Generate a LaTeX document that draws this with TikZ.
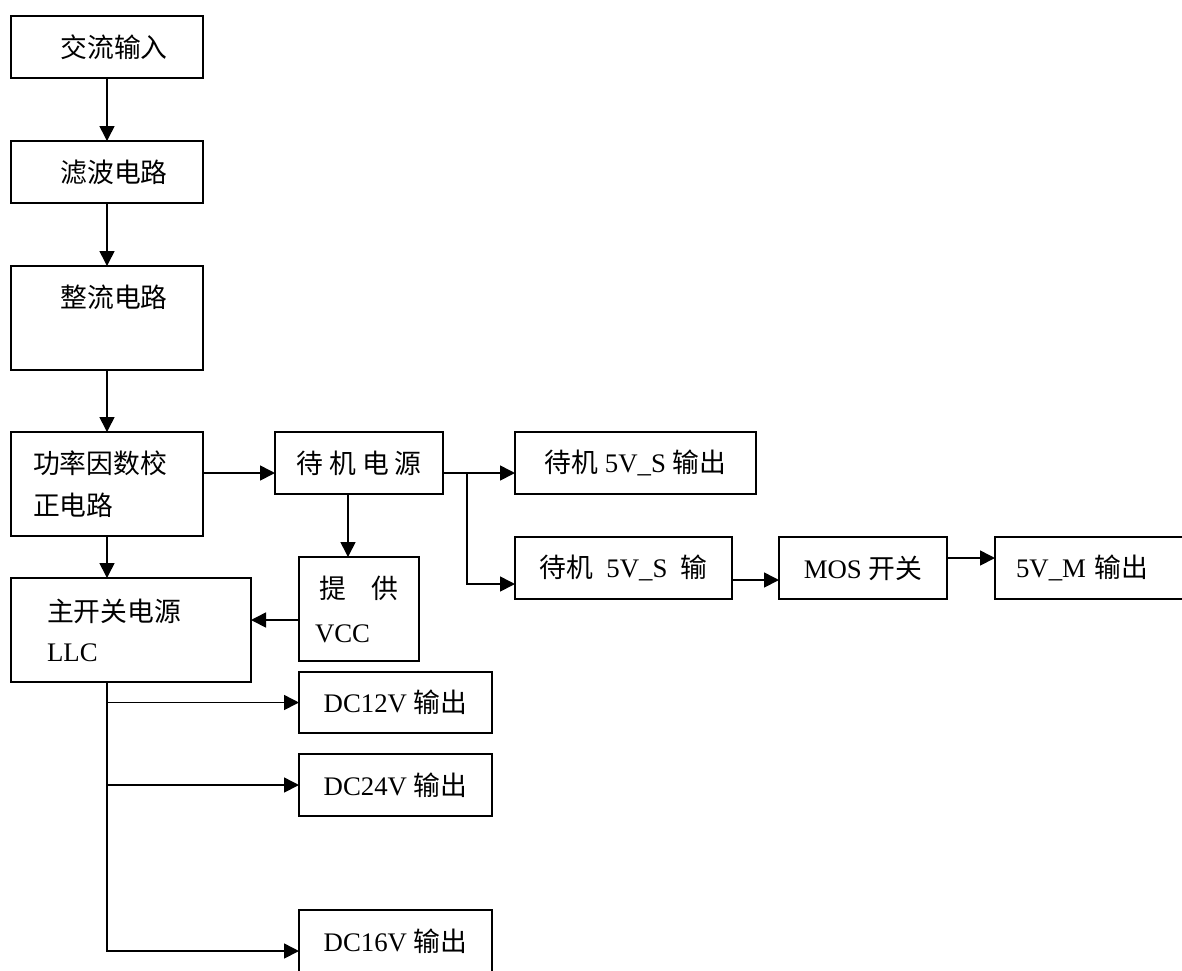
\documentclass[tikz,border=0pt]{standalone}
\usepackage{fontspec}
\setmainfont{Liberation Serif}
\newfontfamily\cjk{Noto Sans CJK SC}
\newcommand{\zh}[1]{{\cjk #1}}
\usepackage{tikz}
\usetikzlibrary{positioning,arrows.meta}
\tikzset{
  blockbox/.style={draw,line width=0.8pt,rectangle,inner sep=0pt,outer sep=0pt,minimum width=96pt,minimum height=31pt,font=\fontsize{13.4pt}{20pt}\selectfont},
  wire/.style={line width=0.8pt},
  feed/.style={-{Triangle[length=7.5pt,width=7.5pt]},line width=0.8pt}
}

\begin{document}
\begin{tikzpicture}
\useasboundingbox (0,0) rectangle (591pt,-485pt);

\node[blockbox,anchor=north west] (ac) at (5.5pt,-8pt) {\kern7pt\zh{交流输入}};
\node[blockbox,below=31.5pt of ac] (filt) {\kern7pt\zh{滤波电路}};
\node[blockbox,below=31.5pt of filt,text height=20.5pt,text depth=31.5pt] (rect) {\kern7pt\zh{整流电路}};
\node[blockbox,below=31pt of rect,minimum height=52pt,align=left,text width=74pt,inner xsep=11pt] (pfc) {\zh{功率因数校}\\[1pt]\zh{正电路}};
\node[blockbox,below=21pt of pfc.south west,anchor=north west,minimum width=120pt,minimum height=52pt,align=left,text width=84pt,inner xsep=18pt] (main) {\zh{主开关电源}\\LLC};

\node[blockbox,right=36pt of pfc.north east,anchor=north west,minimum width=84pt] (sb) {\zh{待 机 电 源}};
\node[blockbox,below=31.5pt of sb.south west,anchor=north west,xshift=12pt,minimum width=60pt,minimum height=52pt,align=left,text width=44pt,inner xsep=8pt] (vcc) {\kern2pt\zh{提}\kern13pt\zh{供}\\\kern2pt VCC};

\node[blockbox,right=36pt of sb,minimum width=120.5pt] (so1) {\zh{待机} 5V\_S \zh{输出}};
\node[blockbox,below=21.5pt of so1.south west,anchor=north west,minimum width=108.5pt] (so2) {\zh{待机}\ \ 5V\_S\ \ \zh{输}};
\node[blockbox,right=23.5pt of so2,minimum width=84pt] (mos) {MOS \zh{开关}};
\node[blockbox,right=24pt of mos,minimum width=105pt,align=left,text width=84pt,inner xsep=10.5pt] (vm) {5V\_M \zh{输出}};

\node[blockbox,below=5.5pt of vcc.south west,anchor=north west,minimum width=96.5pt,minimum height=30.5pt] (dc12) {DC12V \zh{输出}};
\node[blockbox,below=10.5pt of dc12,minimum width=96.5pt] (dc24) {DC24V \zh{输出}};
\node[blockbox,below=47pt of dc24,minimum width=96.5pt] (dc16) {DC16V \zh{输出}};

% input chain
\draw[feed] (ac) -- (filt);
\draw[feed] (filt) -- (rect);
\draw[feed] (rect) -- (pfc);
\draw[feed] (pfc) -- (pfc |- main.north);
\draw[feed] ([yshift=5.5pt]pfc.east) -- ([yshift=-5pt]sb.west);

% standby side
\coordinate (sbdown) at ([xshift=-5.5pt]sb.south);
\draw[feed] (sbdown) -- (sbdown |- vcc.north);
\coordinate (vccout) at ([yshift=-5.5pt]vcc.west);
\draw[feed] (vccout) -- (vccout -| main.east);

\coordinate (sbout) at ([yshift=-5pt]sb.east);
\draw[feed] (sbout) -- (sbout -| so1.west);
\coordinate (split) at ([xshift=12pt]sbout);
\draw[feed] (split) |- ([yshift=-8pt]so2.west);
\coordinate (so2out) at ([yshift=-6pt]so2.east);
\draw[feed] (so2out) -- (so2out -| mos.west);
\draw[feed] ([yshift=5pt]mos.east) -- ([yshift=5pt]vm.west);

% main outputs
\coordinate (trunk) at ([xshift=-12pt]main.south);
\draw[feed] (trunk) |- ([yshift=-5pt]dc16.west);
\draw[feed] (trunk |- dc12.west) -- (dc12.west);
\draw[feed] (trunk |- dc24.west) -- (dc24.west);
\end{tikzpicture}
\end{document}
